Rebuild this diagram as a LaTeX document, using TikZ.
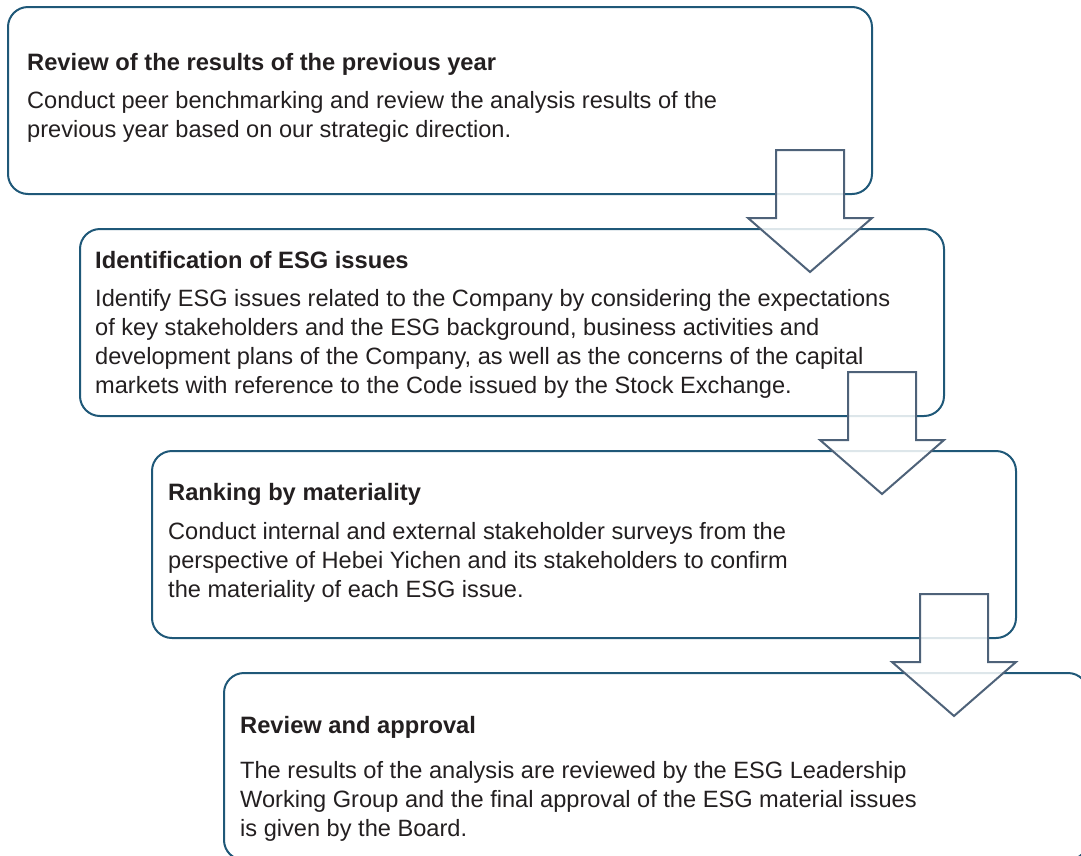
\documentclass[tikz,border=0pt]{standalone}
\usepackage{fontspec}
\setmainfont{Liberation Sans}
\usepackage{xcolor}
\usetikzlibrary{positioning,calc}

\definecolor{boxblue}{HTML}{1F5878}
\definecolor{arrowgrey}{HTML}{4E6279}
\definecolor{inkdark}{HTML}{231F20}

\begin{document}
\begin{tikzpicture}[x=1pt,y=-1pt,
  stage/.style={rectangle,draw=boxblue,line width=2pt,rounded corners=20pt,minimum width=864pt,minimum height=187pt,anchor=north west,inner sep=0pt},
  head/.style={anchor=base west,inner sep=0pt,font=\fontsize{23.7}{29}\selectfont\bfseries,text=inkdark},
  body/.style={anchor=base west,inner sep=0pt,align=left,font=\fontsize{23.6}{29}\selectfont,text=inkdark},
  flow/.style={draw=arrowgrey,line width=2pt,fill=white,fill opacity=0.85,line join=miter}
]
\useasboundingbox (0,0) rectangle (1081,855);
\clip (0,0) rectangle (1081,855);

% the four steps
\node[stage] (s1) at (7,6) {};
\node[stage] (s2) at (79,228) {};
\node[stage] (s3) at (151,450) {};
\node[stage] (s4) at (223,672) {};

% body nodes sit on the baseline of their last line
\node[head] (t1) at (27,70) {Review of the results of the previous year};
\node[body] (b1) at (27,137) {Conduct peer benchmarking and review the analysis results of the\\
previous year based on our strategic direction.};

\node[head] (t2) at (95,268) {Identification of ESG issues};
\node[body] (b2) at (95,393) {Identify ESG issues related to the Company by considering the expectations\\
of key stakeholders and the ESG background, business activities and\\
development plans of the Company, as well as the concerns of the capital\\
markets with reference to the Code issued by the Stock Exchange.};

\node[head] (t3) at (168,500) {Ranking by materiality};
\node[body] (b3) at (168,597) {Conduct internal and external stakeholder surveys from the\\
perspective of Hebei Yichen and its stakeholders to confirm\\
the materiality of each ESG issue.};

\node[head] (t4) at (240,733) {Review and approval};
\node[body] (b4) at (240,836) {The results of the analysis are reviewed by the ESG Leadership\\
Working Group and the final approval of the ESG material issues\\
is given by the Board.};

% block arrows from one step down to the next
\foreach \s in {s1,s2,s3}{
  \draw[flow] ($(\s.south east)+(-63,-45)$) ++(-34,0) -- ++(68,0) -- ++(0,68) -- ++(28,0)
    -- ++(-62,54) -- ++(-62,-54) -- ++(28,0) -- cycle;
}
\end{tikzpicture}
\end{document}
